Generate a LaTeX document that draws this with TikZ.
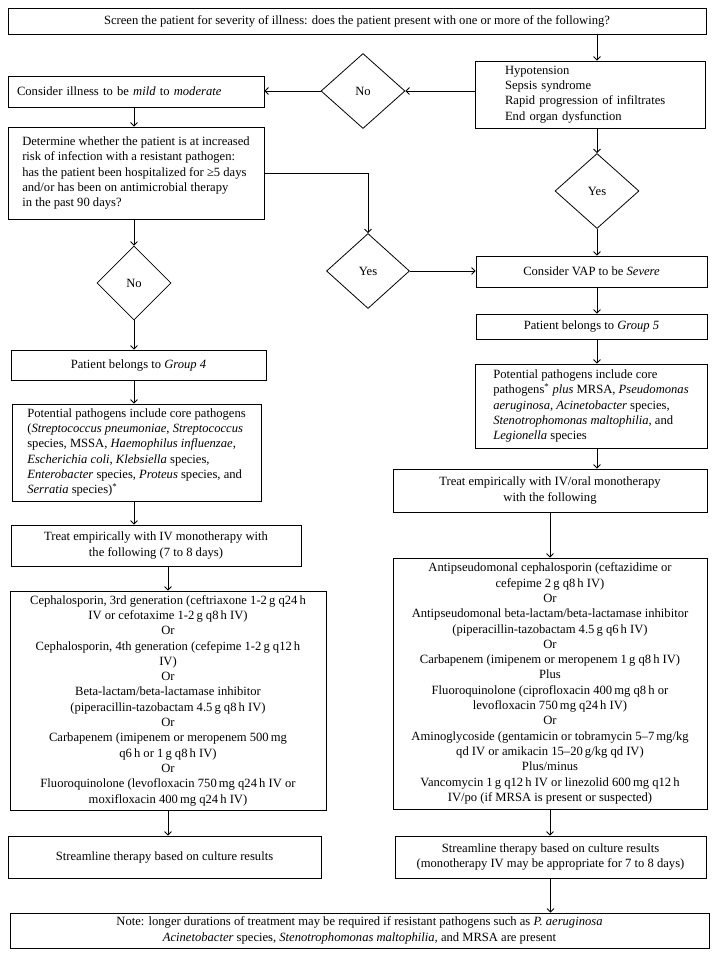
\documentclass[tikz,border=0pt]{standalone}
\usepackage{fontspec}
\setmainfont{Liberation Serif}
\usetikzlibrary{arrows.meta,shapes.geometric}
\newcommand{\fs}{\fontsize{12.6}{15.3}\selectfont}
\newcommand{\ind}{\hspace*{22pt}}
\tikzset{
  box/.style={draw, rectangle, line width=0.8pt, inner xsep=4pt, inner ysep=0pt, align=center, font=\fs},
  lbox/.style={box, align=left},
  choice/.style={draw, diamond, line width=0.8pt, inner sep=0pt, font=\fs},
  link/.style={->, line width=0.8pt},
}

\begin{document}
\begin{tikzpicture}[x=1pt, y=-1pt, >={Straight Barb[length=3.5pt, width=7pt]}]
  \useasboundingbox (0,0) rectangle (716,957);

  \node[box, minimum width=698pt, minimum height=26pt] (screen) at (357,21)
    {Screen the patient for severity of illness: does the patient present with one or more of the following?};
  \node[lbox, inner xsep=8pt, text width=214pt, minimum height=67pt] (signs) at (590,94.5)
    {\ind Hypotension\\ \ind Sepsis syndrome\\ \ind Rapid progression of infiltrates\\ \ind End organ dysfunction};
  \node[choice, minimum width=84pt, minimum height=75pt] (noT) at (363,91) {No};
  \node[lbox, inner xsep=9pt, text width=238pt, minimum height=31pt] (mild) at (136,91.5)
    {Consider illness to be \textit{mild} to \textit{moderate}};
  \node[lbox, minimum width=256pt, minimum height=92pt] (determine) at (136,173)
    {Determine whether the patient is at increased\\ risk of infection with a resistant pathogen:\\
     has the patient been hospitalized for ≥5 days\\ and/or has been on antimicrobial therapy\\ in the past 90 days?};
  \node[choice, minimum width=84pt, minimum height=75pt] (yesR) at (597,191) {Yes};
  \node[choice, minimum width=83pt, minimum height=75pt] (yesL) at (368,271) {Yes};
  \node[choice, minimum width=74pt, minimum height=74pt] (noL) at (134,283) {No};

  % severe branch
  \node[box, minimum width=231pt, minimum height=31pt] (vap) at (591.5,271.5)
    {Consider VAP to be \textit{Severe}};
  \node[box, minimum width=231pt, minimum height=25pt] (group5) at (591.5,326.5)
    {Patient belongs to \textit{Group 5}};
  \node[lbox, minimum width=232pt, minimum height=84pt] (patR) at (591,406)
    {Potential pathogens include core\\ pathogens\textsuperscript{*} \textit{plus} MRSA, \textit{Pseudomonas}\\
     \textit{aeruginosa}, \textit{Acinetobacter} species,\\ \textit{Stenotrophomonas maltophilia}, and\\ \textit{Legionella} species};
  \node[box, minimum width=314pt, minimum height=43pt] (treatR) at (550,490.5)
    {Treat empirically with IV/oral monotherapy\\ with the following};
  \node[box, minimum width=314pt, minimum height=251pt] (anti) at (550,683.5)
    {Antipseudomonal cephalosporin (ceftazidime or\\ cefepime 2\,g q8\,h IV)\\ Or\\
     Antipseudomonal beta-lactam/beta-lactamase inhibitor\\ (piperacillin-tazobactam 4.5\,g q6\,h IV)\\ Or\\
     Carbapenem (imipenem or meropenem 1\,g q8\,h IV)\\ Plus\\
     Fluoroquinolone (ciprofloxacin 400\,mg q8\,h or\\ levofloxacin 750\,mg q24\,h IV)\\ Or\\
     Aminoglycoside (gentamicin or tobramycin 5--7\,mg/kg\\ qd IV or amikacin 15--20\,g/kg qd IV)\\ Plus/minus\\
     Vancomycin 1\,g q12\,h IV or linezolid 600\,mg q12\,h\\ IV/po (if MRSA is present or suspected)};
  \node[box, minimum width=311pt, minimum height=42pt] (streamR) at (550.5,857)
    {Streamline therapy based on culture results\\ (monotherapy IV may be appropriate for 7 to 8 days)};

  % mild branch
  \node[box, minimum width=255pt, minimum height=30pt] (group4) at (138.5,365)
    {Patient belongs to \textit{Group 4}};
  \node[lbox, minimum width=249pt, minimum height=97pt] (patL) at (136.5,452.5)
    {Potential pathogens include core pathogens\\ (\textit{Streptococcus pneumoniae}, \textit{Streptococcus}\\
     species, MSSA, \textit{Haemophilus influenzae},\\ \textit{Escherichia coli}, \textit{Klebsiella} species,\\
     \textit{Enterobacter} species, \textit{Proteus} species, and\\ \textit{Serratia} species)\textsuperscript{*}};
  \node[box, minimum width=290pt, minimum height=41pt] (treatL) at (156,545.5)
    {Treat empirically with IV monotherapy with\\ the following (7 to 8 days)};
  \node[box, minimum width=316pt, minimum height=219pt] (cephalo) at (168,700.5)
    {Cephalosporin, 3rd generation (ceftriaxone 1-2\,g q24\,h\\ IV or cefotaxime 1-2\,g q8\,h IV)\\ Or\\
     Cephalosporin, 4th generation (cefepime 1-2\,g q12\,h\\ IV)\\ Or\\
     Beta-lactam/beta-lactamase inhibitor\\ (piperacillin-tazobactam 4.5\,g q8\,h IV)\\ Or\\
     Carbapenem (imipenem or meropenem 500\,mg\\ q6\,h or 1\,g q8\,h IV)\\ Or\\
     Fluoroquinolone (levofloxacin 750\,mg q24\,h IV or\\ moxifloxacin 400\,mg q24\,h IV)};
  \node[box, minimum width=313pt, minimum height=42pt] (streamL) at (164.5,857)
    {Streamline therapy based on culture results};

  \node[box, minimum width=699pt, minimum height=35pt, font=\fontsize{12.6}{16}\selectfont] (note) at (359.5,930.5)
    {Note: longer durations of treatment may be required if resistant pathogens such as \textit{P. aeruginosa}\\
     \textit{Acinetobacter} species, \textit{Stenotrophomonas maltophilia,} and MRSA are present};

  \draw[link] (screen.south -| yesR) -- (signs.north -| yesR);
  \draw[link] (signs.west |- noT) -- (noT.east);
  \draw[link] (noT.west) -- (mild.east |- noT.west);
  \draw[link] (mild.south -| noL) -- (determine.north -| noL);
  \draw[link] (determine.south -| noL) -- (noL.north);
  \draw[link] (determine.east) -| (yesL.north);
  \draw[link] (signs.south -| yesR) -- (yesR.north);
  \draw[link] (yesR.south) -- (vap.north -| yesR);
  \draw[link] (yesL.east) -- (vap.west |- yesL.east);
  \draw[link] (vap.south -| yesR) -- (group5.north -| yesR);
  \draw[link] (group5.south -| yesR) -- (patR.north -| yesR);
  \draw[link] (patR.south -| yesR) -- (treatR.north -| yesR);
  \draw[link] (treatR.south) -- (anti.north);
  \draw[link] (anti.south) -- (streamR.north -| anti.south);
  \draw[link] (streamR.south) -- (note.north -| streamR.south);
  \draw[link] (noL.south) -- (group4.north -| noL);
  \draw[link] (group4.south -| noL) -- (patL.north -| noL);
  \draw[link] (patL.south -| noL) -- (treatL.north -| noL);
  \draw[link] (treatL.south -| cephalo.north) -- (cephalo.north);
  \draw[link] (cephalo.south) -- (streamL.north -| cephalo.south);

\end{tikzpicture}
\end{document}
